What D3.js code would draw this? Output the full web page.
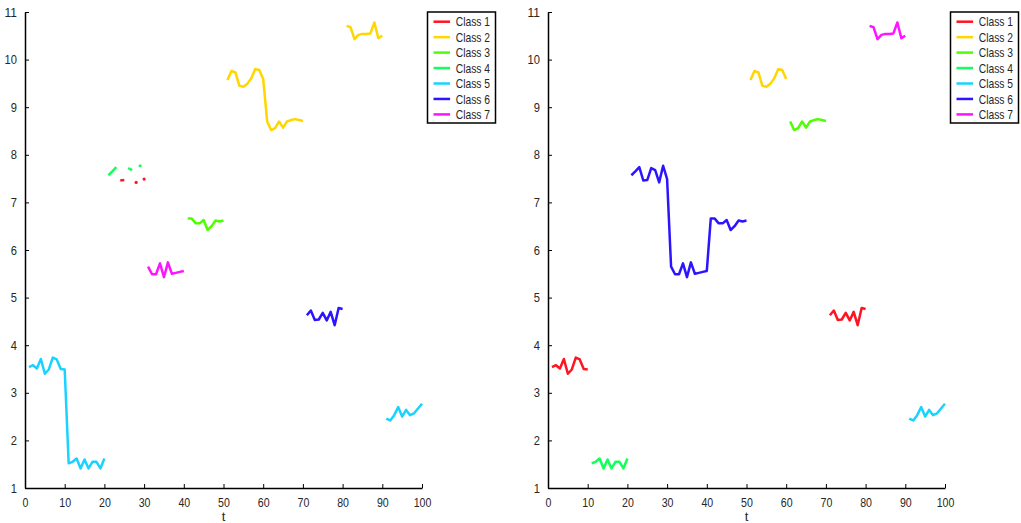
<!DOCTYPE html>
<html>
<head>
<meta charset="utf-8">
<script src="https://cdn.jsdelivr.net/npm/d3@7"></script>
<style>
  html, body { margin: 0; padding: 0; background: #fff; }
  svg { display: block; }
  text { font-family: "Liberation Sans", Arial, sans-serif; fill: #262626; }
</style>
</head>
<body>
<svg id="chart" width="1021" height="523"></svg>
<script>
// Time index 1..100
const tValues = d3.range(1, 101);

// Observed signal value at each time step
const signal = [
  3.54, 3.58, 3.51, 3.71, 3.40, 3.49, 3.74, 3.70, 3.50, 3.49,
  1.52, 1.55, 1.62, 1.41, 1.60, 1.41, 1.55, 1.55, 1.41, 1.62,
  7.57, 7.65, 7.74, 7.46, 7.47, 7.72, 7.68, 7.42, 7.77, 7.49,
  5.65, 5.49, 5.49, 5.72, 5.43, 5.74, 5.50, 5.52, 5.54, 5.56,
  6.66, 6.66, 6.56, 6.56, 6.63, 6.42, 6.50, 6.62, 6.60, 6.62,
  9.57, 9.76, 9.73, 9.45, 9.43, 9.49, 9.61, 9.80, 9.78, 9.59,
  8.70, 8.52, 8.56, 8.70, 8.57, 8.70, 8.73, 8.75, 8.73, 8.71,
  4.63, 4.73, 4.53, 4.54, 4.68, 4.52, 4.70, 4.42, 4.78, 4.76,
  10.71, 10.68, 10.43, 10.52, 10.54, 10.54, 10.55, 10.78, 10.45, 10.50,
  2.46, 2.42, 2.53, 2.70, 2.50, 2.64, 2.53, 2.57, 2.67, 2.77
];

// Class label per time step, left panel
const labelsLeft = [
  5,5,5,5,5,5,5,5,5,5,
  5,5,5,5,5,5,5,5,5,5,
  4,4,4,1,1,4,4,1,4,1,
  7,7,7,7,7,7,7,7,7,7,
  3,3,3,3,3,3,3,3,3,3,
  2,2,2,2,2,2,2,2,2,2,
  2,2,2,2,2,2,2,2,2,2,
  6,6,6,6,6,6,6,6,6,6,
  2,2,2,2,2,2,2,2,2,2,
  5,5,5,5,5,5,5,5,5,5
];

// Class label per time step, right panel
const labelsRight = [
  1,1,1,1,1,1,1,1,1,1,
  4,4,4,4,4,4,4,4,4,4,
  6,6,6,6,6,6,6,6,6,6,
  6,6,6,6,6,6,6,6,6,6,
  6,6,6,6,6,6,6,6,6,6,
  2,2,2,2,2,2,2,2,2,2,
  3,3,3,3,3,3,3,3,3,3,
  1,1,1,1,1,1,1,1,1,1,
  7,7,7,7,7,7,7,7,7,7,
  5,5,5,5,5,5,5,5,5,5
];

const classIds = [1, 2, 3, 4, 5, 6, 7];
const classNames = ["Class 1", "Class 2", "Class 3", "Class 4", "Class 5", "Class 6", "Class 7"];
const classColors = ["#ff1422", "#ffd600", "#4dff00", "#14ff5a", "#1ad2ff", "#2d14ff", "#ff14ff"];

const xTicks = [0, 10, 20, 30, 40, 50, 60, 70, 80, 90, 100];
const yTicks = [1, 2, 3, 4, 5, 6, 7, 8, 9, 10, 11];

const svg = d3.select("#chart");
const yTop = 12, yBottom = 488;

const panels = [
  { left: 25, right: 422, labels: labelsLeft },
  { left: 548, right: 945, labels: labelsRight }
];

const color = d3.scaleOrdinal().domain(classIds).range(classColors);

// narrow the sans-serif glyphs so labels have a condensed look
function condense(sel, perChar) {
  sel.attr("textLength", function () { return this.textContent.length * perChar; })
     .attr("lengthAdjust", "spacingAndGlyphs");
}

panels.forEach(p => {
  const x = d3.scaleLinear().domain([0, 100]).range([p.left, p.right]);
  const y = d3.scaleLinear().domain([1, 11]).range([yBottom, yTop]);
  const g = svg.append("g");

  const pts = tValues.map((t, i) => ({ t, v: signal[i], c: p.labels[i] }));

  // one polyline per class, broken wherever the class changes
  classIds.forEach(k => {
    const line = d3.line()
      .defined(d => d.c === k)
      .x(d => x(d.t))
      .y(d => y(d.v));
    g.append("path")
      .datum(pts)
      .attr("d", line)
      .attr("fill", "none")
      .attr("stroke", color(k))
      .attr("stroke-width", 2.5)
      .attr("stroke-linejoin", "round");
  });

  // single isolated samples show up as short dots
  const isolated = pts.filter((d, i) =>
    (i === 0 || pts[i - 1].c !== d.c) && (i === pts.length - 1 || pts[i + 1].c !== d.c));
  g.selectAll("circle.iso")
    .data(isolated)
    .join("circle")
    .attr("class", "iso")
    .attr("cx", d => x(d.t))
    .attr("cy", d => y(d.v))
    .attr("r", 1.6)
    .attr("fill", d => color(d.c));

  // axes
  const xAxis = d3.axisBottom(x).tickValues(xTicks).tickSizeInner(-4).tickSizeOuter(0).tickPadding(10);
  const yAxis = d3.axisLeft(y).tickValues(yTicks).tickSizeInner(-4).tickSizeOuter(0).tickPadding(8);

  const gx = g.append("g").attr("transform", `translate(0,${yBottom})`).call(xAxis);
  const gy = g.append("g").attr("transform", `translate(${p.left},0)`).call(yAxis);
  [gx, gy].forEach(a => {
    a.select(".domain").attr("stroke", "#000").attr("stroke-width", 1.5);
    a.selectAll(".tick line").attr("stroke", "#000").attr("stroke-width", 1);
    a.selectAll(".tick text").attr("font-size", 13).attr("fill", "#262626")
      .style("font-family", "'Liberation Sans', Arial, sans-serif");
  });
  condense(gx.selectAll(".tick text"), 5.9);
  condense(gy.selectAll(".tick text"), 6.2);

  g.append("text")
    .attr("x", x(50))
    .attr("y", 521)
    .attr("text-anchor", "middle")
    .attr("font-size", 13)
    .text("t");

  // legend
  const lgX = p.right + 5.5, lgY = 12, lgW = 68, lgH = 111;
  const lg = g.append("g").attr("transform", `translate(${lgX},${lgY})`);
  lg.append("rect")
    .attr("width", lgW).attr("height", lgH)
    .attr("fill", "#fff").attr("stroke", "#000").attr("stroke-width", 1.5);
  const rows = lg.selectAll("g.row")
    .data(classIds)
    .join("g")
    .attr("class", "row")
    .attr("transform", (d, i) => `translate(0,${9.7 + i * 15.45})`);
  rows.append("line")
    .attr("x1", 6).attr("x2", 22.6)
    .attr("stroke", d => color(d)).attr("stroke-width", 2.5);
  rows.append("text")
    .attr("x", 28.3).attr("y", 4.6)
    .attr("font-size", 13)
    .attr("textLength", 34.3)
    .attr("lengthAdjust", "spacingAndGlyphs")
    .text((d, i) => classNames[i]);
});
</script>
</body>
</html>
